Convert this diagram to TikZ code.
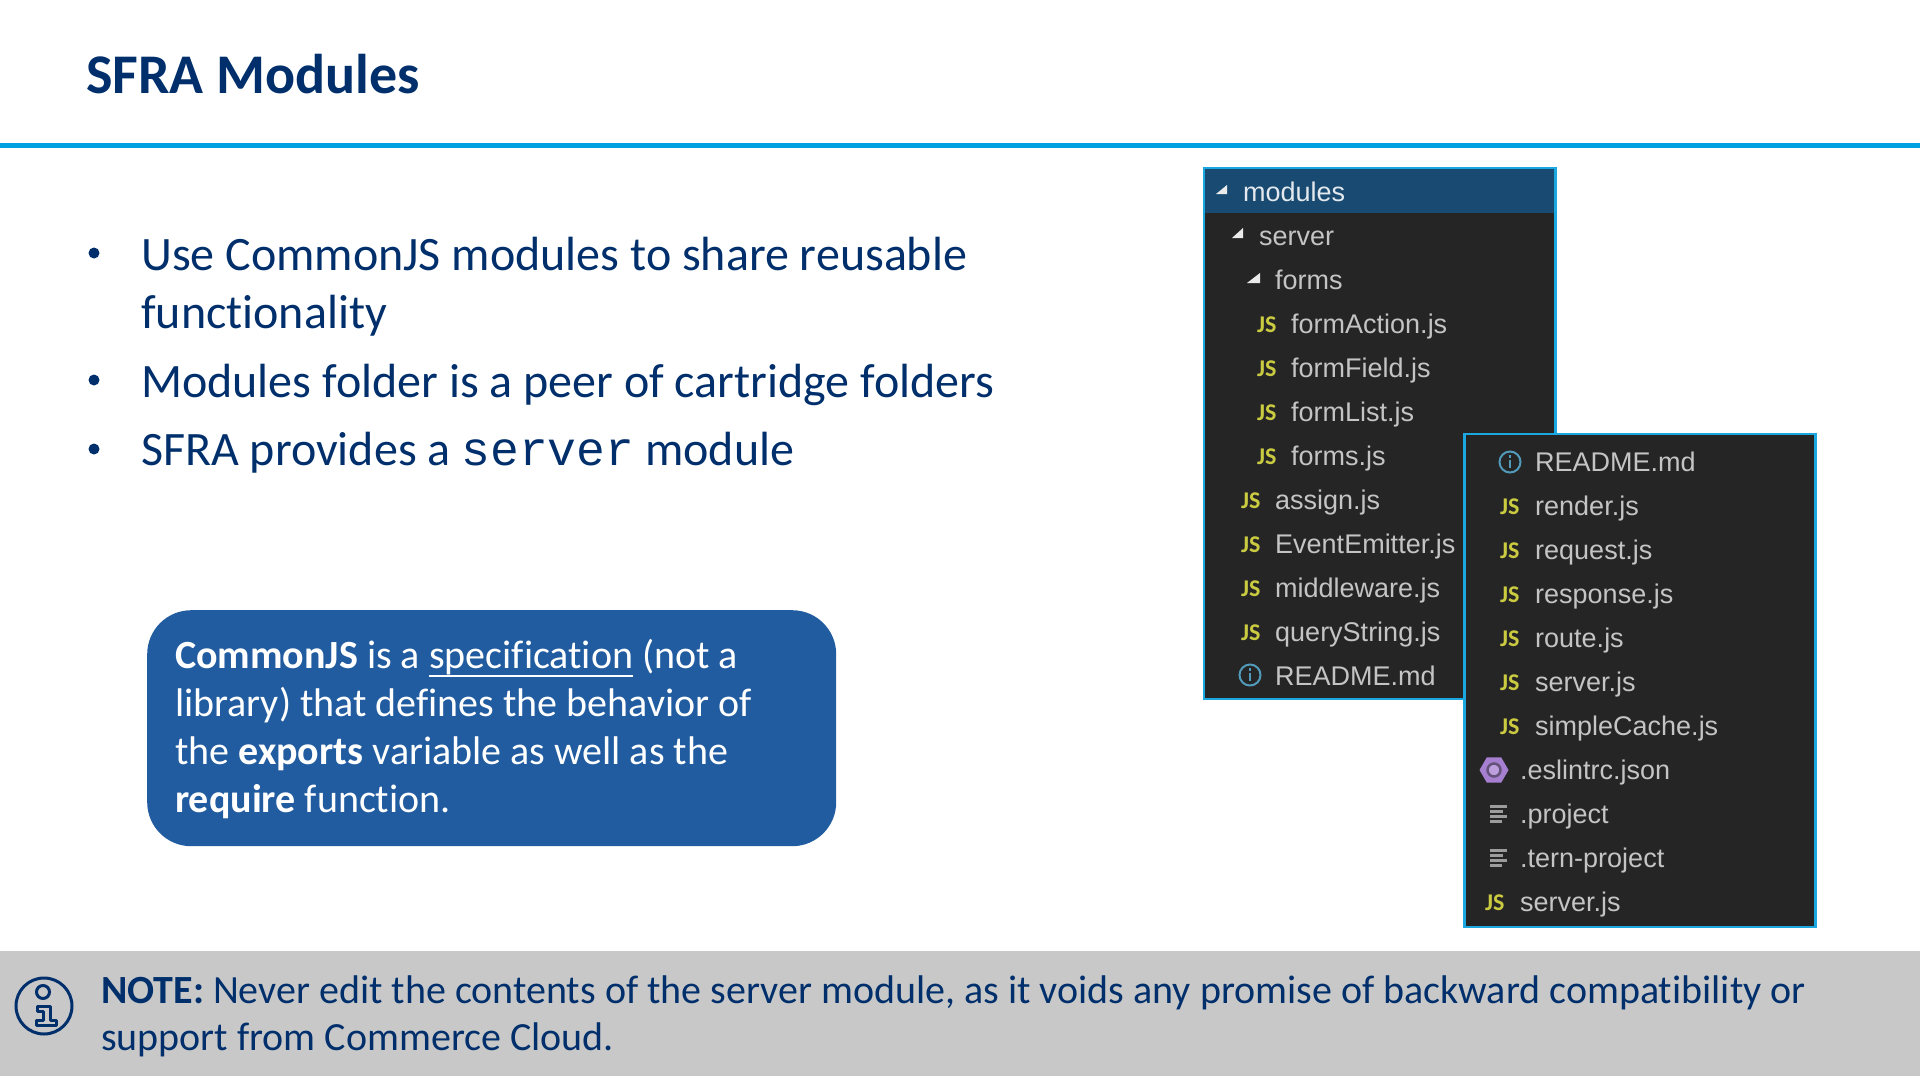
\documentclass[tikz,border=0pt]{standalone}
\usepackage{fontspec}
\setmainfont[Ligatures = NoCommon]{Carlito}
\setmonofont{Liberation Mono}
\newfontfamily\treefont{Liberation Sans}
\usetikzlibrary{shapes.geometric}
\definecolor{navy}{HTML}{002F6C}
\definecolor{rulecol}{HTML}{00A1E0}
\definecolor{boxblue}{HTML}{215CA0}
\definecolor{notegray}{HTML}{C8C8C8}
\definecolor{panel}{HTML}{252525}
\definecolor{panelhead}{HTML}{194B72}
\definecolor{panelline}{HTML}{1BA8E0}
\definecolor{treetext}{HTML}{C4C4C4}
\definecolor{jsyellow}{HTML}{CBCB41}
\definecolor{infoblue}{HTML}{519ABA}
\definecolor{eslint}{HTML}{A67FD0}
\definecolor{lines}{HTML}{9C9C9C}
\newcommand{\thickul}[1]{\setbox0\hbox{#1}\rlap{\smash{\rule[-9pt]{\wd0}{2.5pt}}}\box0\relax}

\begin{document}
\begin{tikzpicture}
      [x = 1pt, y = -1pt,
      title/.style= {
         anchor = base west,
         inner sep = 0pt,
         text = navy,
         font = \fontsize{56}{66}\selectfont\bfseries
      },
      body/.style= {
         anchor = base west,
         inner sep = 0pt,
         align = left,
         text = navy,
         font = \fontsize{48}{58}\selectfont
      },
      bullet/.style= {
         circle,
         fill = navy,
         inner sep = 0pt,
         minimum size = 11pt
      },
      win/.style= {
         draw = panelline,
         line width = 2.5pt,
         fill = panel
      },
      file/.style= {
         anchor = base west,
         inner sep = 0pt,
         text = treetext,
         font = \fontsize{27}{32}\selectfont\treefont
      },
      js/.style= {
         anchor = base west,
         inner sep = 0pt,
         text = jsyellow,
         font = \fontsize{24}{28}\selectfont\bfseries
      },
      tri/.style= {fill = white!92!black},
      info/.style= {draw = infoblue, line width = 2pt},
      listing/.style= {draw = lines, line width = 3pt}]

      \useasboundingbox (0, 0) rectangle (1920, 1080);

      \node[title] (heading) at (86, 93) {SFRA Modules};
      \draw[draw = rulecol, line width = 5pt] (0, 145) -- (1920, 145);

      \node[bullet] (dot1) at (94, 253) {};
      \node[bullet] (dot2) at (94, 380) {};
      \node[bullet] (dot3) at (94, 449) {};
      \node[body] (item1) at (141, 328) {Use CommonJS modules to share reusable\\functionality};
      \node[body] (item2) at (141, 397) {Modules folder is a peer of cartridge folders};
      \node[body] (item3) at (141, 465) {SFRA provides a \texttt{server} module};

      \node[fill = boxblue, rounded corners = 44pt, anchor = north west,
            minimum width = 689pt, minimum height = 236pt] (commonjs) at (147, 610) {};
      \node[body, text = white, font = \fontsize{40}{48}\selectfont] (commonjstext) at (175, 812)
         {\textbf{CommonJS} is a \thickul{specification} (not a\\
          library) that defines the behavior of\\
          the \textbf{exports} variable as well as the\\
          \textbf{require} function.};

      \draw[win] (1204, 168) rectangle (1555.5, 699);
      \fill[panelhead] (1204, 168) rectangle (1555.5, 213);
      \draw[draw = panelline, line width = 2.5pt] (1204, 213) -- (1204, 168) -- (1555.5, 168) -- (1555.5, 213);

      \fill[tri] (1216, 194) -- (1227, 194) -- (1227, 185) -- cycle;
      \fill[tri] (1232, 238) -- (1243, 238) -- (1243, 228) -- cycle;
      \fill[tri] (1247, 283) -- (1260, 283) -- (1260, 273) -- cycle;

      \node[file, text = white!88!panelhead] (modules) at (1243, 201) {modules};
      \node[file] (server) at (1259, 245) {server};
      \node[file] (forms) at (1275, 289) {forms};
      \node[js] (js1) at (1257, 332) {JS};
      \node[file] (formaction) at (1291, 333) {formAction.js};
      \node[js] (js2) at (1257, 376) {JS};
      \node[file] (formfield) at (1291, 377) {formField.js};
      \node[js] (js3) at (1257, 420) {JS};
      \node[file] (formlist) at (1291, 421) {formList.js};
      \node[js] (js4) at (1257, 464) {JS};
      \node[file] (formsjs) at (1291, 465) {forms.js};
      \node[js] (js5) at (1241, 508) {JS};
      \node[file] (assign) at (1275, 509) {assign.js};
      \node[js] (js6) at (1241, 552) {JS};
      \node[file] (emitter) at (1275, 553) {EventEmitter.js};
      \node[js] (js7) at (1241, 596) {JS};
      \node[file] (middleware) at (1275, 597) {middleware.js};
      \node[js] (js8) at (1241, 640) {JS};
      \node[file] (querystring) at (1275, 641) {queryString.js};
      \draw[info] (1250, 675) circle (10.5);
      \draw[info] (1250, 673) -- (1250, 681) (1250, 668) -- (1250, 670.5);
      \node[file] (readme) at (1275, 685) {README.md};

      \draw[win] (1464.3, 434) rectangle (1815.5, 927);

      \draw[info] (1510, 462) circle (10.5);
      \draw[info] (1510, 460) -- (1510, 468) (1510, 455) -- (1510, 457.5);
      \node[file] (readme2) at (1535, 471) {README.md};
      \node[js] (js9) at (1500, 514) {JS};
      \node[file] (render) at (1535, 515) {render.js};
      \node[js] (js10) at (1500, 558) {JS};
      \node[file] (request) at (1535, 559) {request.js};
      \node[js] (js11) at (1500, 602) {JS};
      \node[file] (response) at (1535, 603) {response.js};
      \node[js] (js12) at (1500, 646) {JS};
      \node[file] (route) at (1535, 647) {route.js};
      \node[js] (js13) at (1500, 690) {JS};
      \node[file] (serverjs) at (1535, 691) {server.js};
      \node[js] (js14) at (1500, 734) {JS};
      \node[file] (simplecache) at (1535, 735) {simpleCache.js};
      \node[regular polygon, regular polygon sides = 6, fill = eslint, inner sep = 0pt,
            minimum size = 29pt] (hexagon) at (1494, 770) {};
      \draw[draw = panel!50!eslint, fill = eslint!75!white, line width = 2.5pt] (hexagon.center) circle (6.5);
      \node[file] (eslintrc) at (1520, 779) {.eslintrc.json};
      \draw[listing] (1490, 806) -- (1507, 806) (1490, 811) -- (1503, 811) (1490, 816) -- (1507, 816) (1490, 821) -- (1502, 821);
      \node[file] (project) at (1520, 823) {.project};
      \draw[listing] (1490, 850) -- (1507, 850) (1490, 855) -- (1503, 855) (1490, 860) -- (1507, 860) (1490, 865) -- (1502, 865);
      \node[file] (tern) at (1520, 867) {.tern-project};
      \node[js] (js15) at (1485, 910) {JS};
      \node[file] (serverroot) at (1520, 911) {server.js};

      \node[fill = notegray, anchor = north west, inner sep = 0pt,
            minimum width = 1920pt, minimum height = 125pt] (notebar) at (0, 951) {};
      \draw[draw = navy, line width = 3pt] (44, 1006) circle (28);
      \draw[draw = navy, line width = 3pt] (43, 992) circle (6.5);
      \draw[draw = navy, line width = 3pt, line join = round]
         (37, 1006) -- (50, 1006) -- (50, 1020) -- (56, 1020) -- (56, 1025) -- (36, 1025)
         -- (36, 1020) -- (43, 1020) -- (43, 1011) -- (37, 1011) -- cycle;
      \node[body, font = \fontsize{40}{47.5}\selectfont] (note) at (101, 1050.5)
         {\textbf{NOTE:} Never edit the contents of the server module, as it voids any promise of backward compatibility or\\
          support from Commerce Cloud.};

   \end{tikzpicture}
\end{document}
